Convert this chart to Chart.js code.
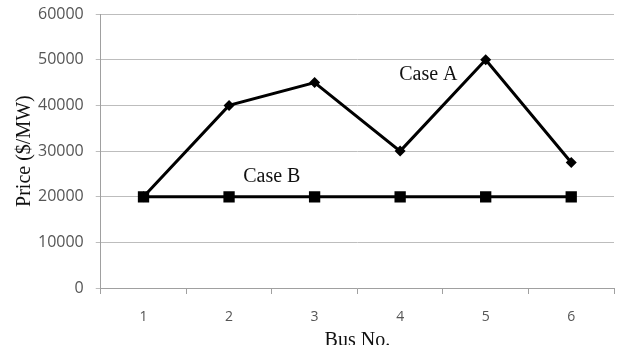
<!DOCTYPE html>
<html>
<head>
<meta charset="utf-8">
<script src="https://cdn.jsdelivr.net/npm/chart.js@4"></script>
<style>
  html, body { margin: 0; padding: 0; background: #fff; }
  #wrap { width: 622px; height: 345px; }
</style>
</head>
<body>
<div id="wrap"><canvas id="priceChart"></canvas></div>
<script>
const buses = ['1', '2', '3', '4', '5', '6'];
const caseA = [20000, 40000, 45000, 30000, 50000, 27500];
const caseB = [20000, 20000, 20000, 20000, 20000, 20000];
const yTicks = [0, 10000, 20000, 30000, 40000, 50000, 60000];

// labels written inside the plot, placed in data units (category index, price)
const notes = [
    { text: 'Case A', x: 3.33, y: 46800 },
    { text: 'Case B', x: 1.5, y: 24400 }
];

const notePlugin = {
    id: 'notes',
    afterDatasetsDraw(chart) {
        const ctx = chart.ctx;
        const xs = chart.scales.x, ys = chart.scales.y;
        ctx.save();
        ctx.font = '20px "Liberation Serif", "Times New Roman", serif';
        ctx.fillStyle = '#111';
        ctx.textAlign = 'center';
        ctx.textBaseline = 'middle';
        notes.forEach(n => {
            ctx.fillText(n.text, xs.getPixelForValue(n.x), ys.getPixelForValue(n.y));
        });
        ctx.restore();
    }
};

const ctx = document.getElementById('priceChart').getContext('2d');
new Chart(ctx, {
    type: 'line',
    data: {
        labels: buses,
        datasets: [
            {
                label: 'Case B',
                data: caseB,
                borderColor: '#000',
                backgroundColor: '#000',
                borderWidth: 3,
                pointStyle: 'rect',
                pointRadius: 8,
                pointBorderWidth: 0,
                order: 0
            },
            {
                label: 'Case A',
                data: caseA,
                borderColor: '#000',
                backgroundColor: '#000',
                borderWidth: 3,
                pointStyle: 'rectRot',
                pointRadius: 5.5,
                pointBorderWidth: 0,
                order: 1
            }
        ]
    },
    options: {
        responsive: true,
        maintainAspectRatio: false,
        animation: false,
        layout: { padding: { top: 14, right: 0, left: 13, bottom: -8 } },
        plugins: {
            legend: { display: false },
            tooltip: { enabled: false }
        },
        scales: {
            x: {
                offset: true,
                afterFit: s => { s.paddingRight = 0; s.paddingLeft = 0; },
                grid: {
                    display: true,
                    drawOnChartArea: false,
                    tickLength: 17,
                    tickBorderDash: [5, 100],
                    color: '#a0a0a0',
                    offset: true
                },
                border: { color: '#a0a0a0', width: 1 },
                ticks: {
                    color: '#555',
                    padding: 3,
                    font: { family: '"Open Sans", sans-serif', size: 14 }
                },
                title: {
                    display: true,
                    text: 'Bus No.',
                    color: '#111',
                    padding: { top: 1, bottom: 0 },
                    font: { family: '"Liberation Serif", "Times New Roman", serif', size: 20 }
                }
            },
            y: {
                min: 0,
                max: 60000,
                afterBuildTicks: axis => { axis.ticks = yTicks.map(v => ({ value: v })); },
                grid: {
                    color: '#bdbdbd',
                    tickLength: 14,
                    tickBorderDash: [0, 9, 5, 100],
                    lineWidth: 1
                },
                border: { color: '#a0a0a0', width: 1 },
                ticks: {
                    color: '#555',
                    padding: 3,
                    callback: v => String(v),
                    font: { family: '"Open Sans", sans-serif', size: 16 }
                },
                title: {
                    display: true,
                    text: 'Price ($/MW)',
                    color: '#111',
                    padding: { top: 0, bottom: -2 },
                    font: { family: '"Liberation Serif", "Times New Roman", serif', size: 20 }
                }
            }
        }
    },
    plugins: [notePlugin]
});
</script>
</body>
</html>
